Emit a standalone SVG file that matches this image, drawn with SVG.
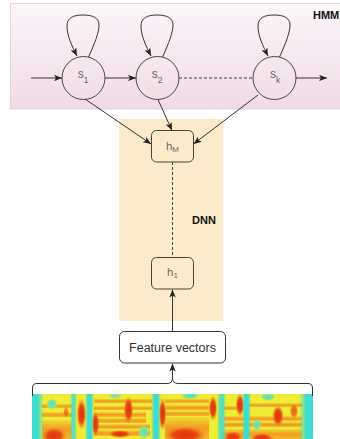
<svg xmlns="http://www.w3.org/2000/svg" width="340" height="439" viewBox="0 0 340 439">
  <style>
    .state { fill: none; stroke: #4a4448; stroke-width: 1; }
    .layer { fill: none; stroke: #4d4130; stroke-width: 1; }
    .edge { fill: none; stroke: #333; stroke-width: 1; }
    .dash { fill: none; stroke: #444; stroke-width: 1; stroke-dasharray: 3 2; }
    .lbl { font-family: "Liberation Sans", Arial, sans-serif; fill: #666; }
    .title { font-family: "Liberation Sans", Arial, sans-serif; font-weight: bold; fill: #111; font-size: 11px; }
    .band { fill: url(#bandGrad); }
    .hot { fill: url(#hotGrad); }
    .gap { fill: url(#gapGrad); }
  </style>
  <defs>
    <linearGradient id="hmmFill" x1="0" y1="0" x2="0" y2="1">
      <stop offset="0" stop-color="#fbf6f9"/>
      <stop offset="1" stop-color="#f1dae5"/>
    </linearGradient>
    <!-- soft-edged fills for the spectrogram -->
    <linearGradient id="gapGrad" x1="0" y1="0" x2="1" y2="0">
      <stop offset="0" stop-color="#3fdcd0" stop-opacity="0"/>
      <stop offset="0.3" stop-color="#3fdcd0"/>
      <stop offset="0.7" stop-color="#3fdcd0"/>
      <stop offset="1" stop-color="#3fdcd0" stop-opacity="0"/>
    </linearGradient>
    <linearGradient id="bandGrad" x1="0" y1="0" x2="0" y2="1">
      <stop offset="0" stop-color="#f29a24" stop-opacity="0.2"/>
      <stop offset="0.5" stop-color="#f29a24"/>
      <stop offset="1" stop-color="#f29a24" stop-opacity="0.6"/>
    </linearGradient>
    <radialGradient id="hotGrad">
      <stop offset="0" stop-color="#e0300c"/>
      <stop offset="0.55" stop-color="#e84a14"/>
      <stop offset="1" stop-color="#f08a22" stop-opacity="0"/>
    </radialGradient>
    <radialGradient id="coolGrad">
      <stop offset="0" stop-color="#4edcc4"/>
      <stop offset="0.6" stop-color="#7ee49a"/>
      <stop offset="1" stop-color="#b0ea60" stop-opacity="0"/>
    </radialGradient>
    <marker id="arrow" viewBox="0 0 10 8" refX="10" refY="4" markerWidth="8" markerHeight="6.5" markerUnits="userSpaceOnUse" orient="auto">
      <path d="M0,0 L10,4 L0,8 L2.5,4 z" fill="#222"/>
    </marker>
    <clipPath id="specClip">
      <rect x="32" y="394" width="281" height="45"/>
    </clipPath>
  </defs>

  <!-- HMM panel -->
  <g id="hmm-panel">
    <rect x="10.5" y="3.5" width="340" height="105.5" fill="url(#hmmFill)" stroke="#e2d3da"/>
    <text class="title" x="313" y="18.5">HMM</text>
  </g>

  <!-- DNN panel -->
  <g id="dnn-panel">
    <rect x="119" y="119" width="104" height="202" fill="#fcebcb"/>
    <text class="title" x="192" y="224">DNN</text>
  </g>

  <!-- HMM states -->
  <g id="s1">
    <circle class="state" cx="83.5" cy="78" r="21.5"/>
    <text class="lbl" x="83" y="77.5" font-size="12" text-anchor="middle">s<tspan font-size="8.5" dy="5">1</tspan></text>
  </g>
  <g id="s2">
    <circle class="state" cx="157.5" cy="78" r="21.5"/>
    <text class="lbl" x="157" y="77.5" font-size="12" text-anchor="middle">s<tspan font-size="8.5" dy="5">2</tspan></text>
  </g>
  <g id="sk">
    <circle class="state" cx="274.5" cy="78" r="21.5"/>
    <text class="lbl" x="275" y="77.5" font-size="12" text-anchor="middle">s<tspan font-size="8.5" dy="5">k</tspan></text>
  </g>

  <!-- DNN layers -->
  <g id="hM">
    <rect class="layer" x="151.5" y="130.5" width="42" height="31.5" rx="5"/>
    <text class="lbl" x="172.5" y="149.5" font-size="11.5" text-anchor="middle">h<tspan font-size="8" dy="2">M</tspan></text>
  </g>
  <g id="h1">
    <rect class="layer" x="151.5" y="257.5" width="42" height="31.5" rx="5"/>
    <text class="lbl" x="172.5" y="275.5" font-size="11.5" text-anchor="middle">h<tspan font-size="8" dy="2.5">1</tspan></text>
  </g>

  <!-- Feature vectors -->
  <g id="features">
    <rect x="119.5" y="331.5" width="106" height="31.5" rx="5" fill="#fff" stroke="#333"/>
    <text x="172.5" y="351.5" font-family="'Liberation Sans', Arial, sans-serif" font-size="12.5" fill="#333" text-anchor="middle">Feature vectors</text>
  </g>

  <!-- Spectrogram -->
  <g id="spectrogram" clip-path="url(#specClip)">
    <rect x="32" y="394" width="281" height="45" fill="#eeec34"/>
    <!-- harmonic bands -->
    <rect class="band" x="42" y="404" width="30" height="4"/>
    <rect class="band" x="42" y="412" width="30" height="5"/>
    <rect class="band" x="42" y="420" width="30" height="19"/>
    <rect class="band" x="94" y="399" width="58" height="4"/>
    <rect class="band" x="94" y="406" width="58" height="4"/>
    <rect class="band" x="94" y="412" width="52" height="5"/>
    <rect class="band" x="94" y="418" width="52" height="5"/>
    <rect class="band" x="94" y="424" width="56" height="5"/>
    <rect class="band" x="94" y="430" width="56" height="6"/>
    <rect class="band" x="165" y="399" width="44" height="4"/>
    <rect class="band" x="165" y="405" width="44" height="5"/>
    <rect class="band" x="165" y="411" width="44" height="5"/>
    <rect class="band" x="165" y="417" width="44" height="22"/>
    <rect class="band" x="224" y="406" width="20" height="4"/>
    <rect class="band" x="249" y="403" width="53" height="4"/>
    <rect class="band" x="224" y="416" width="78" height="5"/>
    <rect class="band" x="224" y="422" width="78" height="5"/>
    <rect class="band" x="222" y="429" width="80" height="10"/>
    <!-- voiced energy -->
    <ellipse class="hot" cx="54" cy="436" rx="13" ry="9"/>
    <ellipse class="hot" cx="185" cy="435" rx="22" ry="9"/>
    <ellipse class="hot" cx="233" cy="437" rx="10" ry="6"/>
    <ellipse class="hot" cx="262" cy="438" rx="12" ry="5"/>
    <ellipse class="hot" cx="120" cy="434" rx="12" ry="4"/>
    <ellipse class="hot" cx="81.5" cy="414" rx="5" ry="16"/>
    <ellipse class="hot" cx="95.5" cy="424" rx="4" ry="13"/>
    <ellipse class="hot" cx="128.5" cy="410" rx="5" ry="14"/>
    <ellipse class="hot" cx="162.5" cy="414" rx="4" ry="17"/>
    <ellipse class="hot" cx="213" cy="408" rx="4.5" ry="13"/>
    <ellipse class="hot" cx="240" cy="405" rx="4.5" ry="12"/>
    <ellipse class="hot" cx="278" cy="416" rx="6" ry="11"/>
    <ellipse class="hot" cx="294" cy="411" rx="4.5" ry="8" opacity="0.7"/>
    <ellipse class="hot" cx="66" cy="412" rx="3" ry="6" opacity="0.6"/>
    <!-- silence gaps -->
    <rect class="gap" x="24" y="394" width="20" height="45"/>
    <rect class="gap" x="70" y="394" width="7" height="45" opacity="0.8"/>
    <rect class="gap" x="85" y="394" width="9" height="45"/>
    <rect class="gap" x="151" y="394" width="10" height="45"/>
    <rect class="gap" x="217" y="394" width="9" height="45" opacity="0.85"/>
    <rect class="gap" x="242" y="394" width="9" height="45"/>
    <rect class="gap" x="299" y="394" width="24" height="45"/>
    <ellipse fill="url(#coolGrad)" cx="52" cy="404" rx="6" ry="6"/>
    <ellipse fill="url(#coolGrad)" cx="144" cy="432" rx="6" ry="7"/>
    <ellipse fill="url(#coolGrad)" cx="257" cy="425" rx="5" ry="6"/>
    <ellipse fill="url(#coolGrad)" cx="268" cy="397" rx="8" ry="4"/>
    <ellipse fill="url(#coolGrad)" cx="190" cy="396" rx="10" ry="3.5"/>
    <ellipse fill="url(#coolGrad)" cx="115" cy="396" rx="8" ry="3" opacity="0.7"/>
  </g>

  <!-- Connectors -->
  <g id="connectors">
    <!-- self loops -->
    <path class="edge" d="M88.5,57 C95,43 99,32 99,25 C99,18 93,15 83,15 C73,15 67,18 67,26 C67,36 72,46 77,56" marker-end="url(#arrow)"/>
    <path class="edge" d="M162.5,57 C169,43 173,32 173,25 C173,18 167,15 157,15 C147,15 141,18 141,26 C141,36 146,46 151,56" marker-end="url(#arrow)"/>
    <path class="edge" d="M279.5,57 C286,43 290,32 290,25 C290,18 284,15 274,15 C264,15 258,18 258,26 C258,36 263,46 268,56" marker-end="url(#arrow)"/>
    <!-- chain -->
    <line class="edge" x1="31" y1="78" x2="62" y2="78" marker-end="url(#arrow)"/>
    <line class="edge" x1="105" y1="78" x2="136" y2="78" marker-end="url(#arrow)"/>
    <line class="dash" x1="179" y1="78" x2="253" y2="78"/>
    <line class="edge" x1="296" y1="78" x2="327" y2="78" marker-end="url(#arrow)"/>
    <!-- states to top layer -->
    <line class="edge" x1="85" y1="99" x2="151" y2="144" marker-end="url(#arrow)"/>
    <line class="edge" x1="158" y1="99.5" x2="172" y2="130.5" marker-end="url(#arrow)"/>
    <line class="edge" x1="258" y1="95" x2="193.5" y2="144" marker-end="url(#arrow)"/>
    <!-- layer stack -->
    <line class="dash" x1="172.5" y1="162" x2="172.5" y2="257.5"/>
    <line class="edge" x1="172.5" y1="331.5" x2="172.5" y2="289.5" marker-end="url(#arrow)"/>
    <!-- brace over the spectrogram -->
    <path class="edge" d="M32.5,396 L32.5,388 Q32.5,383.5 37,383.5 L167,383.5 Q172.5,383.5 172.5,378 Q172.5,383.5 178,383.5 L308,383.5 Q312.5,383.5 312.5,388 L312.5,396" stroke="#444"/>
    <line class="edge" x1="172.5" y1="378" x2="172.5" y2="363.5" marker-end="url(#arrow)"/>
  </g>
</svg>
